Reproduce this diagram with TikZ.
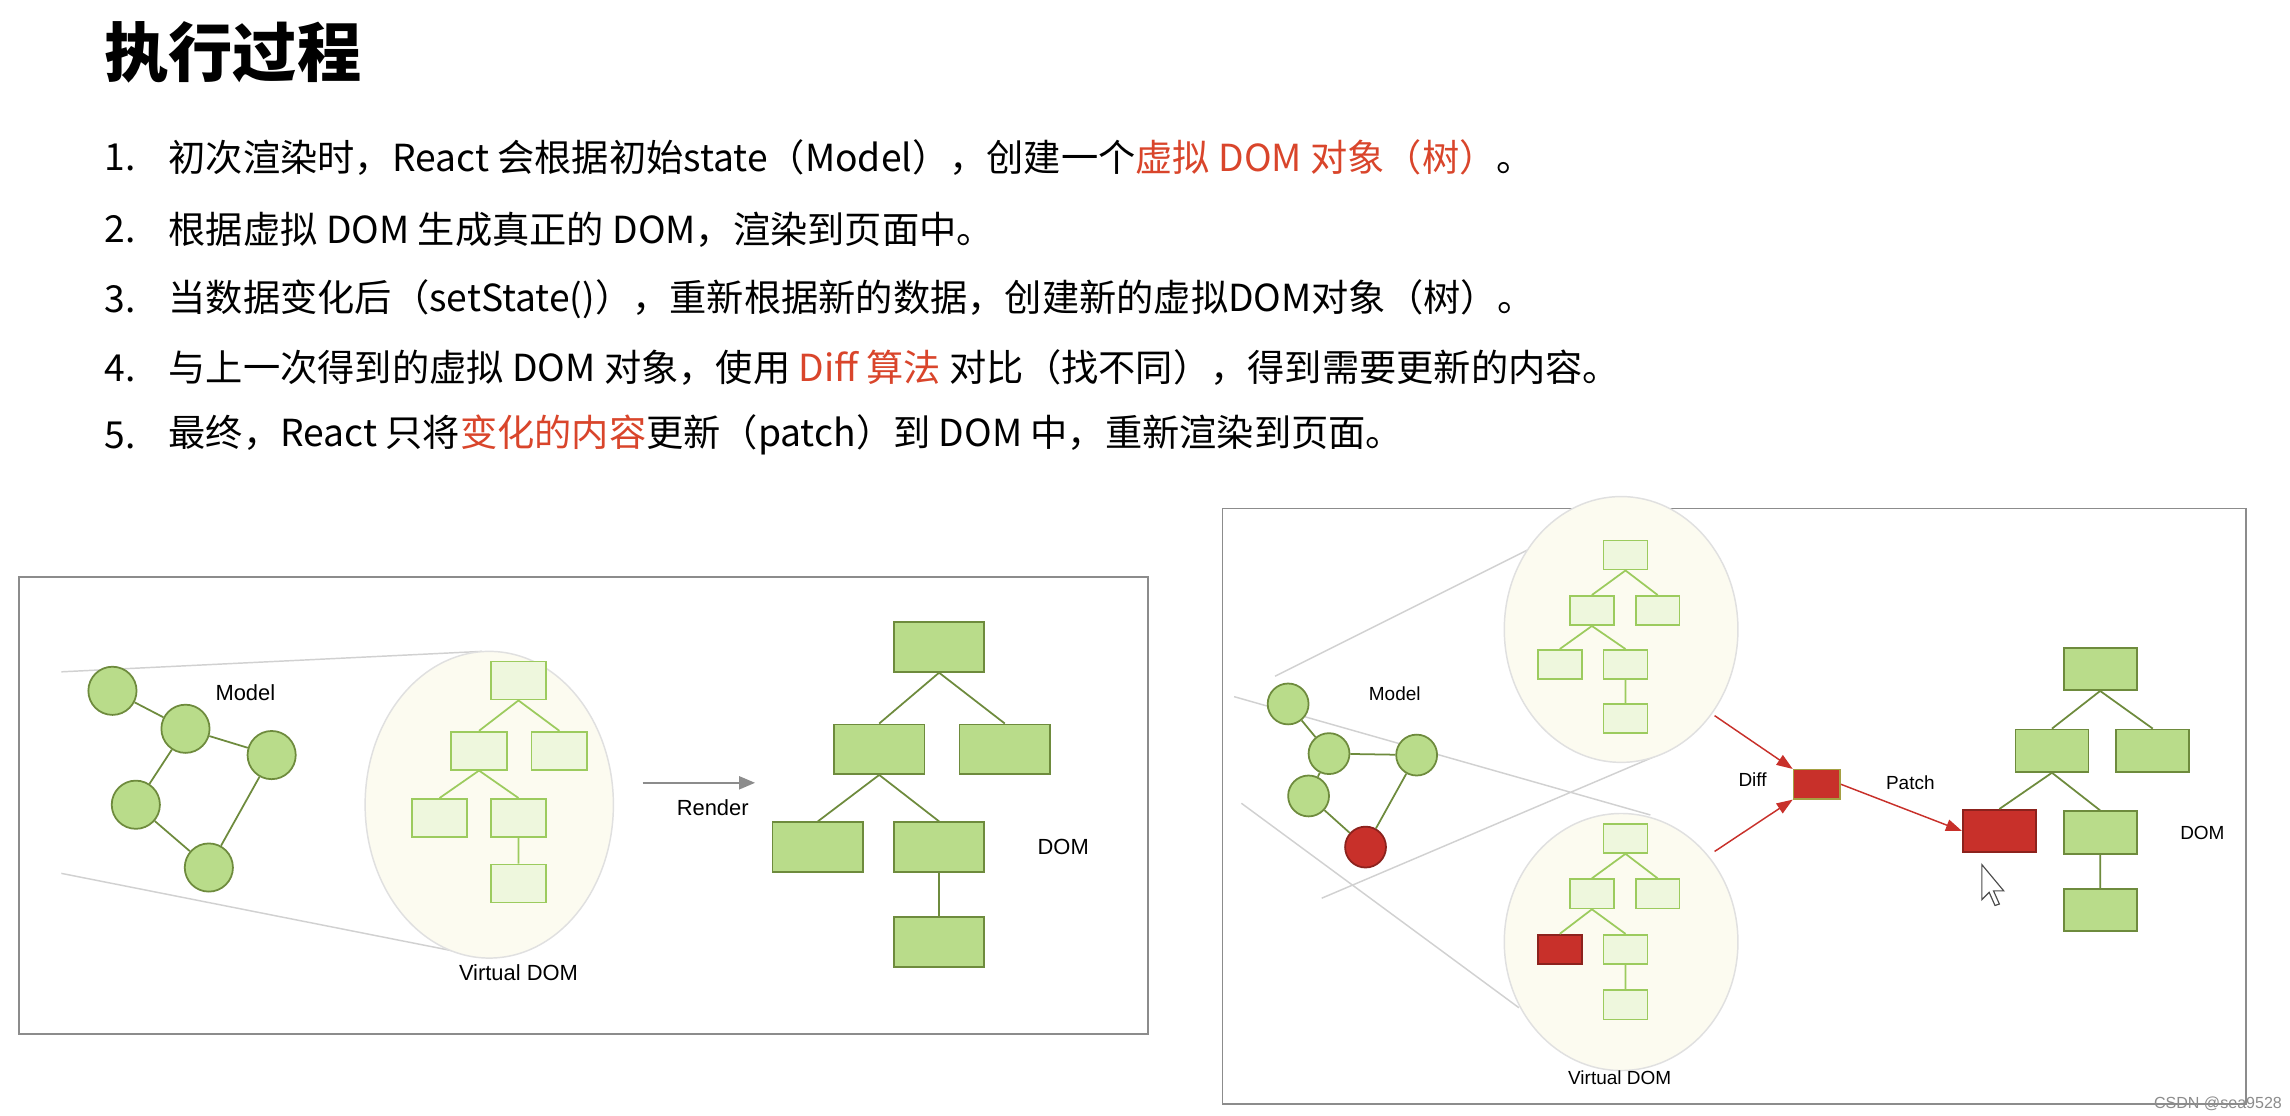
\documentclass[tikz,border=0pt]{standalone}
\usepackage{fontspec}
\setmainfont{Noto Sans CJK SC}
\newfontfamily\lab{Liberation Sans}
\usetikzlibrary{arrows.meta}
\definecolor{lg}{HTML}{EEF7DD}\definecolor{lgd}{HTML}{9CCB5E}
\definecolor{dg}{HTML}{B9DC8A}\definecolor{dgd}{HTML}{6E8B3D}
\definecolor{rd}{HTML}{C8302A}\definecolor{hl}{HTML}{D9452B}
\definecolor{cream}{HTML}{FCFBF0}
\begin{document}
\begin{tikzpicture}[x=1pt,y=-1pt,
 vbox/.style={draw=lgd,fill=lg,line width=1.2pt,minimum width=38pt,minimum height=26pt,inner sep=0},
 vsm/.style={vbox,minimum width=30pt,minimum height=20pt},
 dbox/.style={draw=dgd,fill=dg,line width=1.2pt,minimum width=62pt,minimum height=34pt,inner sep=0},
 dsm/.style={dbox,minimum width=50pt,minimum height=29pt},
 mc/.style={circle,draw=dgd,fill=dg,line width=1.2pt,minimum size=33pt,inner sep=0},
 msm/.style={mc,minimum size=28pt},
 eg/.style={draw=dgd,line width=1.2pt},
 vg/.style={draw=lgd,line width=1.2pt},
 cone/.style={draw=black!18,line width=1pt},
 lb/.style={font=\lab\fontsize{15}{18}\selectfont},
 li/.style={anchor=west,font=\fontsize{25.5}{30}\selectfont},
 ra/.style={draw=rd,line width=1pt,-{Triangle[length=11pt,width=8pt]}}]
\useasboundingbox (0,0) rectangle (1568,764);
\fill[white] (0,0) rectangle (1568,764);
% text
\node[anchor=west,font=\bfseries\fontsize{44}{50}\selectfont] (title) at (68,36) {执行过程};
\node[li] (n1) at (68,108) {1.};\node[li] (t1) at (112,108) {初次渲染时，React 会根据初始state（Model），创建一个\textcolor{hl}{虚拟 DOM 对象（树）}。};
\node[li] (n2) at (68,157) {2.};\node[li] (t2) at (112,157) {根据虚拟 DOM 生成真正的 DOM，渲染到页面中。};
\node[li] (n3) at (68,205) {3.};\node[li] (t3) at (112,205) {当数据变化后（setState()），重新根据新的数据，创建新的虚拟DOM对象（树）。};
\node[li] (n4) at (68,252) {4.};\node[li] (t4) at (112,252) {与上一次得到的虚拟 DOM 对象，使用 \textcolor{hl}{Diff 算法} 对比（找不同），得到需要更新的内容。};
\node[li] (n5) at (68,298) {5.};\node[li] (t5) at (112,298) {最终，React 只将\textcolor{hl}{变化的内容}更新（patch）到 DOM 中，重新渲染到页面。};
% ===== left panel
\draw[black!45,line width=1pt] (13,395) rectangle (786,708);
\coordinate (c1a) at (42,460);\coordinate (c1b) at (330,446);
\coordinate (c2a) at (42,598);\coordinate (c2b) at (335,656);
\draw[cone] (c1a) -- (c1b); \draw[cone] (c2a) -- (c2b);
\fill[cream] (335,551) ellipse (85 and 105);
\draw[black!12,line width=1pt] (335,551) ellipse (85 and 105);
\node[mc] (m1) at (77,473) {};\node[mc] (m2) at (127,499) {};\node[mc] (m3) at (186,517) {};
\node[mc] (m4) at (93,551) {};\node[mc] (m5) at (143,594) {};
\draw[eg] (m1)--(m2) (m2)--(m3) (m2)--(m4) (m4)--(m5) (m3)--(m5);
\node[lb] (model1) at (168,474) {Model};
\node[vbox] (v1) at (355,466) {};\node[vbox] (v2) at (328,514) {};\node[vbox] (v3) at (383,514) {};
\node[vbox] (v4) at (301,560) {};\node[vbox] (v5) at (355,560) {};\node[vbox] (v6) at (355,605) {};
\draw[vg] (v1.south)--(v2.north) (v1.south)--(v3.north) (v2.south)--(v4.north) (v2.south)--(v5.north) (v5)--(v6);
\node[lb] (vd1) at (355,666) {Virtual DOM};
\coordinate (ra) at (440,536);\coordinate (rb) at (517,536);
\draw[black!45,line width=1.2pt,-{Triangle[length=11pt,width=9pt]}] (ra)--(rb);
\node[lb] (render) at (488,553) {Render};
\node[dbox] (d1) at (643,443) {};\node[dbox] (d2) at (602,513) {};\node[dbox] (d3) at (688,513) {};
\node[dbox] (d4) at (560,580) {};\node[dbox] (d5) at (643,580) {};\node[dbox] (d6) at (643,645) {};
\draw[eg] (d1.south)--(d2.north) (d1.south)--(d3.north) (d2.south)--(d4.north) (d2.south)--(d5.north) (d5)--(d6);
\node[lb] (dom1) at (728,580) {DOM};
% ===== right panel
\draw[black!45,line width=1pt] (837,348) rectangle (1538,756);
\coordinate (k1a) at (873,463);\coordinate (k1b) at (1075,362);
\coordinate (k2a) at (845,477);\coordinate (k2b) at (1130,558);
\coordinate (k3a) at (850,550);\coordinate (k3b) at (1040,690);
\coordinate (k4a) at (905,615);\coordinate (k4b) at (1140,515);
\draw[cone] (k1a)--(k1b) (k2a)--(k2b) (k3a)--(k3b) (k4a)--(k4b);
\fill[cream] (1110,431) ellipse (80 and 91);\draw[black!12,line width=1pt] (1110,431) ellipse (80 and 91);
\fill[cream] (1110,645) ellipse (80 and 88);\draw[black!12,line width=1pt] (1110,645) ellipse (80 and 88);
\node[msm] (r1) at (882,482) {};\node[msm] (r2) at (910,516) {};\node[msm] (r3) at (970,517) {};
\node[msm] (r4) at (896,545) {};\node[msm,fill=rd,draw=rd!70!black] (r5) at (935,580) {};
\draw[eg] (r1)--(r2) (r2)--(r3) (r2)--(r4) (r4)--(r5) (r3)--(r5);
\node[lb,font=\lab\fontsize{13}{16}\selectfont] (model2) at (955,475) {Model};
\node[vsm] (u1) at (1113,380) {};\node[vsm] (u2) at (1090,418) {};\node[vsm] (u3) at (1135,418) {};
\node[vsm] (u4) at (1068,455) {};\node[vsm] (u5) at (1113,455) {};\node[vsm] (u6) at (1113,492) {};
\draw[vg] (u1.south)--(u2.north) (u1.south)--(u3.north) (u2.south)--(u4.north) (u2.south)--(u5.north) (u5)--(u6);
\node[vsm] (w1) at (1113,574) {};\node[vsm] (w2) at (1090,612) {};\node[vsm] (w3) at (1135,612) {};
\node[vsm,fill=rd,draw=rd!70!black] (w4) at (1068,650) {};\node[vsm] (w5) at (1113,650) {};\node[vsm] (w6) at (1113,688) {};
\draw[vg] (w1.south)--(w2.north) (w1.south)--(w3.north) (w2.south)--(w4.north) (w2.south)--(w5.north) (w5)--(w6);
\node[lb,font=\lab\fontsize{13}{16}\selectfont] (vd2) at (1109,738) {Virtual DOM};
\node[draw=yellow!60!black,fill=rd,line width=1pt,minimum width=32pt,minimum height=20pt,inner sep=0] (diff) at (1244,537) {};
\coordinate (ua) at (1174,490);\coordinate (wa) at (1174,583);
\draw[ra] (ua)--(diff.north west); \draw[ra] (wa)--(diff.south west);
\node[lb,font=\lab\fontsize{13}{16}\selectfont] (difft) at (1200,534) {Diff};
\node[lb,font=\lab\fontsize{13}{16}\selectfont] (patcht) at (1308,536) {Patch};
\node[draw=rd!70!black,fill=rd,line width=1.2pt,minimum width=50pt,minimum height=29pt,inner sep=0] (e4) at (1369,569) {};
\draw[ra] (diff.east)--(e4.west);
\node[dsm] (e1) at (1438,458) {};\node[dsm] (e2) at (1405,514) {};\node[dsm] (e3) at (1474,514) {};
\node[dsm] (e5) at (1438,570) {};\node[dsm] (e6) at (1438,623) {};
\draw[eg] (e1.south)--(e2.north) (e1.south)--(e3.north) (e2.south)--(e4.north) (e2.south)--(e5.north) (e5)--(e6);
\node[lb,font=\lab\fontsize{13}{16}\selectfont] (dom2) at (1508,570) {DOM};
\draw[black!70,fill=white,line width=0.8pt] (1357,592) -- (1357,616) -- (1362,611) -- (1366,620) -- (1369,619) -- (1365,610) -- (1372,610) -- cycle;
\node[anchor=south east,font=\lab\fontsize{11}{13}\selectfont,text=black!45] (csdn) at (1566,764) {CSDN @sea9528};
\end{tikzpicture}
\end{document}
